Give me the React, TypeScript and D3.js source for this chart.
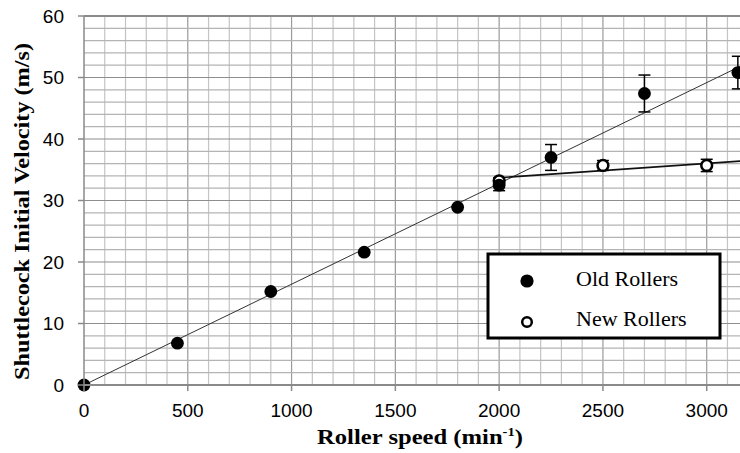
import React from "react";
import * as d3 from "d3";

const oldSpeed = [0, 450, 900, 1350, 1800, 2000, 2250, 2700, 3150];
const oldVel = [0, 6.8, 15.2, 21.6, 28.9, 32.5, 37.0, 47.4, 50.8];
const oldErr = [0, 0, 0, 0, 0, 0.9, 2.1, 3.0, 2.65];
const newSpeed = [2000, 2500, 3000];
const newVel = [33.2, 35.7, 35.7];
const newErr = [0.5, 0.8, 1.0];
const oldFitX = [0, 3200];
const oldFitY = [0, 52.45];
const newFitX = [2000, 3200];
const newFitY = [33.7, 36.5];
const xTicks = [0, 500, 1000, 1500, 2000, 2500, 3000];
const yTicks = [0, 10, 20, 30, 40, 50, 60];
const legendLabels = ["Old Rollers", "New Rollers"];

const W = 740;
const H = 453;

export default function App() {
  const x = d3.scaleLinear().domain([0, 3200]).range([84, 84 + 3200 * 0.20757]);
  const y = d3.scaleLinear().domain([0, 60]).range([385, 16]);
  const minorX = d3.range(100, 3201, 100);
  const minorY = d3.range(2, 60, 2);
  const line = d3
    .line<[number, number]>()
    .x((d) => x(d[0]))
    .y((d) => y(d[1]));
  const oldFit: [number, number][] = oldFitX.map((v, i) => [v, oldFitY[i]]);
  const newFit: [number, number][] = newFitX.map((v, i) => [v, newFitY[i]]);
  const tickFont = "'Liberation Sans', Arial, sans-serif";
  const serif = "'Liberation Serif', 'Times New Roman', serif";

  return (
    <svg
      width={W}
      height={H}
      style={{ position: "absolute", left: 0, top: 0, background: "#fff" }}
    >
      <rect x={0} y={0} width={W} height={H} fill="#fff" />
      <defs>
        <clipPath id="plot">
          <rect x={84} y={14} width={W - 84} height={372} />
        </clipPath>
      </defs>
      <g clipPath="url(#plot)">
        {minorX.map((v) => (
          <line
            key={"vx" + v}
            x1={x(v)}
            x2={x(v)}
            y1={y(60)}
            y2={y(0)}
            stroke={v % 500 === 0 ? "#9a9a9a" : "#c4c4c4"}
            strokeWidth={1.2}
          />
        ))}
        {minorY.map((v) => (
          <line
            key={"hy" + v}
            x1={x(0)}
            x2={W}
            y1={y(v)}
            y2={y(v)}
            stroke={v % 10 === 0 ? "#8e8e8e" : "#b4b4b4"}
            strokeWidth={1.2}
          />
        ))}
        <path d={line(oldFit) || ""} fill="none" stroke="#333" strokeWidth={1} />
        <path d={line(newFit) || ""} fill="none" stroke="#111" strokeWidth={1.6} />
        {newSpeed.map((s, i) =>
          newErr[i] > 0 ? (
            <g key={"ne" + i} stroke="#000" strokeWidth={1.5}>
              <line x1={x(s)} x2={x(s)} y1={y(newVel[i] - newErr[i])} y2={y(newVel[i] + newErr[i])} />
              <line x1={x(s) - 6} x2={x(s) + 6} y1={y(newVel[i] - newErr[i])} y2={y(newVel[i] - newErr[i])} />
              <line x1={x(s) - 6} x2={x(s) + 6} y1={y(newVel[i] + newErr[i])} y2={y(newVel[i] + newErr[i])} />
            </g>
          ) : null
        )}
        {oldSpeed.map((s, i) =>
          oldErr[i] > 0 ? (
            <g key={"oe" + i} stroke="#000" strokeWidth={1.5}>
              <line x1={x(s)} x2={x(s)} y1={y(oldVel[i] - oldErr[i])} y2={y(oldVel[i] + oldErr[i])} />
              <line x1={x(s) - 6} x2={x(s) + 6} y1={y(oldVel[i] - oldErr[i])} y2={y(oldVel[i] - oldErr[i])} />
              <line x1={x(s) - 6} x2={x(s) + 6} y1={y(oldVel[i] + oldErr[i])} y2={y(oldVel[i] + oldErr[i])} />
            </g>
          ) : null
        )}
        {newSpeed.map((s, i) => (
          <circle key={"nm" + i} cx={x(s)} cy={y(newVel[i])} r={5.4} fill="#fff" stroke="#000" strokeWidth={2.5} />
        ))}
      </g>
      {oldSpeed.map((s, i) => (
        <circle key={"om" + i} cx={x(s)} cy={y(oldVel[i])} r={6.4} fill="#000" />
      ))}
      {/* axes */}
      <line x1={x(0)} x2={W} y1={y(60)} y2={y(60)} stroke="#8a8a8a" strokeWidth={2} />
      <line x1={x(0)} x2={W} y1={y(0)} y2={y(0)} stroke="#8a8a8a" strokeWidth={2} />
      <line x1={x(0)} x2={x(0)} y1={y(60)} y2={y(0)} stroke="#8a8a8a" strokeWidth={1.5} />
      {yTicks.map((t) => (
        <g key={"yt" + t}>
          <line x1={78} x2={x(0)} y1={y(t)} y2={y(t)} stroke="#8a8a8a" strokeWidth={1.5} />
          <text
            x={64}
            y={y(t)}
            dy="0.35em"
            textAnchor="end"
            fontFamily={tickFont}
            fontSize={19}
            fill="#000"
          >
            {t}
          </text>
        </g>
      ))}
      {xTicks.map((t) => (
        <g key={"xt" + t}>
          <line x1={x(t)} x2={x(t)} y1={y(0)} y2={y(0) + 6} stroke="#8a8a8a" strokeWidth={1.5} />
          <text
            x={x(t)}
            y={417}
            textAnchor="middle"
            fontFamily={tickFont}
            fontSize={19}
            fill="#000"
          >
            {t}
          </text>
        </g>
      ))}
      {/* axis titles */}
      <text
        x={420}
        y={444}
        textAnchor="middle"
        fontFamily={serif}
        fontWeight="bold"
        fontSize={22}
        transform="translate(420,0) scale(1.12,1) translate(-420,0)"
      >
        Roller speed (min
        <tspan fontSize={13} dy={-8}>-1</tspan>
        <tspan dy={8}>)</tspan>
      </text>
      <text
        transform="translate(29,211.5) rotate(-90)"
        textAnchor="middle"
        fontFamily={serif}
        fontWeight="bold"
        fontSize={22}
        textLength={337}
        lengthAdjust="spacingAndGlyphs"
      >
        Shuttlecock Initial Velocity (m/s)
      </text>
      {/* legend */}
      <rect x={488} y={254} width={232} height={84} fill="#fff" stroke="#000" strokeWidth={3} />
      <circle cx={527} cy={281} r={6.6} fill="#000" />
      <circle cx={527} cy={322} r={4.8} fill="#fff" stroke="#000" strokeWidth={2.5} />
      {legendLabels.map((l, i) => (
        <text key={l} x={576} y={286 + i * 40} fontFamily={serif} fontSize={22} fill="#000">
          {l}
        </text>
      ))}
    </svg>
  );
}
